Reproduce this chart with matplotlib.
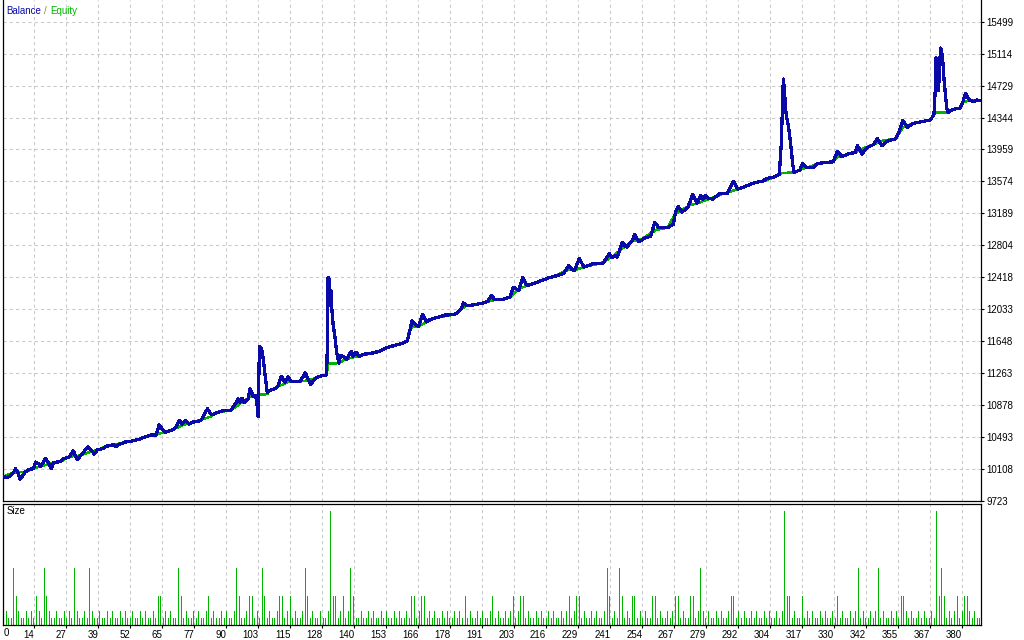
import numpy as np
import matplotlib
matplotlib.use("Agg")
import matplotlib.pyplot as plt

# right-hand price scale of the upper panel
y_ticks = [9723, 10108, 10493, 10878, 11263, 11648, 12033, 12418, 12804,
           13189, 13574, 13959, 14344, 14729, 15114, 15499]

# trade-number labels under the lower panel
x_labels = ["14", "27", "39", "52", "65", "77", "90", "103", "115", "128",
            "140", "153", "166", "178", "191", "203", "216", "229", "241", "254",
            "267", "279", "292", "304", "317", "330", "342", "355", "367", "380"]

# blue line ("Balance" in the caption)
balance_x = [0, 1.5, 2.8, 4.1, 4.9, 5.7, 6.7, 8.0, 8.8, 10.4, 12.0, 12.8, 14.1, 14.9,
             16.7, 18.0, 19.1, 19.9, 21.2, 22.7, 23.8, 26.2, 27.7, 29.3, 31.2, 33.5,
             35.1, 35.9, 37.2, 39.6, 41.1, 43.5, 44.3, 46.1, 48.2, 51.4, 53.5, 55.3,
             57.2, 58.8, 60.3, 61.6, 63.0, 64.0, 65.9, 67.4, 68.5, 69.5, 70.6, 71.9,
             73.2, 74.5, 77.2, 78.5, 80.6, 82.2, 84.3, 86.4, 90.0, 91.9, 92.7, 93.5,
             94.2, 95.3, 96.6, 97.4, 98.7, 99.5, 100.0, 100.6, 101.1, 101.9, 102.7,
             103.4, 104.2, 105.3, 107.1, 108.4, 109.8, 111.1, 112.4, 113.7, 117.1,
             119.2, 121.3, 123.2, 125.0, 127.6, 127.9, 128.2, 128.7, 129.0, 129.3,
             129.7, 130.2, 130.8, 131.6, 132.4, 133.2, 134.7, 135.5, 137.3, 138.1,
             139.2, 140.5, 142.1, 146.0, 148.7, 151.3, 154.7, 157.3, 159.4, 160.2,
             161.3, 162.9, 163.9, 165.5, 167.1, 168.4, 171.0, 174.3, 178.1, 178.9,
             180.7, 181.5, 183.1, 185.2, 189.4, 191.2, 192.6, 193.9, 197.0, 199.9,
             201.2, 203.4, 204.9, 206.7, 209.9, 211.8, 214.6, 218.3, 220.9, 223.1,
             224.4, 225.4, 227.2, 229.1, 232.8, 236.7, 239.1, 240.1, 241.4, 242.2,
             244.1, 245.9, 248.0, 249.1, 250.7, 253.3, 255.4, 257.0, 258.6, 261.9,
             264.3, 265.1, 266.2, 267.7, 270.1, 271.9, 273.8, 275.1, 276.1, 276.9,
             278.3, 279.9, 282.4, 285.6, 288.0, 289.8, 293.3, 296.6, 299.6, 301.1,
             303.7, 306.1, 306.9, 307.7, 308.2, 308.5, 309.0, 309.8, 310.6, 311.4,
             311.9, 314.3, 315.3, 316.9, 319.3, 321.1, 323.5, 327.4, 329.0, 330.8,
             334.0, 336.1, 336.9, 338.7, 340.6, 343.2, 344.8, 346.6, 348.5, 352.1,
             353.7, 354.8, 356.6, 358.9, 362.9, 365.8, 367.1, 367.6, 367.9, 368.7,
             368.9, 369.5, 369.8, 370.5, 371.1, 372.1, 372.6, 374.7, 377.4, 378.7,
             379.5, 381.3, 382.9, 383.9, 385.3]
balance_y = [10016, 10008, 10024, 10064, 10112, 10076, 9988, 10036, 10076, 10104, 10112,
             10192, 10168, 10136, 10240, 10176, 10112, 10184, 10192, 10200, 10232, 10256,
             10328, 10224, 10288, 10377, 10328, 10288, 10337, 10361, 10385, 10401, 10377,
             10409, 10433, 10449, 10465, 10489, 10505, 10521, 10513, 10641, 10577, 10553,
             10569, 10585, 10625, 10697, 10649, 10697, 10649, 10673, 10681, 10713, 10834,
             10762, 10786, 10810, 10818, 10906, 10954, 10914, 10962, 10906, 10954, 11074,
             10986, 10994, 10938, 10738, 11580, 11564, 11419, 11219, 11034, 11058, 11074,
             11106, 11227, 11155, 11219, 11163, 11163, 11267, 11130, 11203, 11227, 11243,
             11600, 12418, 12382, 12081, 12261, 12021, 11840, 11720, 11515, 11383, 11479,
             11455, 11431, 11527, 11467, 11515, 11467, 11491, 11507, 11531, 11572, 11600,
             11620, 11651, 11748, 11892, 11840, 11828, 11973, 11880, 11909, 11933, 11964,
             11969, 11988, 12041, 12109, 12077, 12085, 12109, 12133, 12198, 12150, 12150,
             12181, 12301, 12261, 12414, 12318, 12349, 12373, 12406, 12438, 12462, 12558,
             12510, 12502, 12646, 12542, 12583, 12590, 12703, 12655, 12679, 12662, 12839,
             12782, 12854, 12935, 12847, 12895, 12911, 13079, 13016, 13016, 13055, 13191,
             13272, 13203, 13263, 13416, 13312, 13401, 13360, 13408, 13368, 13360, 13425,
             13425, 13576, 13480, 13521, 13561, 13576, 13609, 13624, 13657, 14026, 14808,
             14667, 14466, 14346, 14226, 14026, 13786, 13681, 13713, 13793, 13745, 13737,
             13785, 13801, 13810, 13937, 13873, 13913, 13921, 14009, 13905, 13978, 14018,
             14090, 14002, 14057, 14090, 14202, 14306, 14226, 14274, 14298, 14315, 14387,
             14667, 15068, 14988, 14667, 15068, 15181, 15068, 14788, 14466, 14406, 14442,
             14459, 14547, 14635, 14547, 14539, 14555, 14547]

# green line ("Equity" in the caption)
equity_x = [0, 4, 9, 12, 14, 20, 23, 26, 30, 33, 37, 41, 44, 48, 53, 57, 60, 61, 66, 67,
            72, 76, 79, 82, 84, 90, 96, 98, 99, 104.2, 105.3, 109, 113, 117, 121, 125,
            127.6, 128.3, 132.4, 135, 140, 146, 151, 157, 159.4, 160, 161.5, 164, 167,
            171, 178, 180.7, 183, 189, 193, 197, 200, 204, 207, 212, 218, 222, 226, 229,
            236, 240, 244, 248, 252, 257.5, 262, 265, 271, 274, 279, 284, 289, 293, 297,
            300, 304, 306.1, 307, 311.9, 314, 317, 321, 327, 329.5, 334, 336, 339, 343,
            347, 352, 355, 359, 363, 365.8, 367.1, 367.5, 372.6, 374.7, 377.4, 378.5,
            381.3, 385.3]
equity_y = [10016, 10064, 10076, 10112, 10136, 10184, 10200, 10256, 10270, 10300, 10337,
            10385, 10401, 10433, 10465, 10505, 10513, 10529, 10569, 10585, 10650, 10681,
            10713, 10740, 10786, 10818, 10950, 10986, 11000, 11010, 11058, 11110, 11163,
            11163, 11180, 11227, 11243, 11379, 11383, 11431, 11467, 11507, 11560, 11620,
            11651, 11760, 11828, 11828, 11880, 11933, 11969, 12041, 12077, 12109, 12140,
            12150, 12181, 12290, 12318, 12373, 12438, 12502, 12510, 12542, 12590, 12662,
            12760, 12854, 12880, 12990, 13016, 13180, 13290, 13312, 13370, 13425, 13473,
            13521, 13561, 13576, 13624, 13657, 13677, 13681, 13713, 13740, 13785, 13810,
            13873, 13913, 13921, 13969, 14018, 14066, 14090, 14226, 14274, 14298, 14315,
            14387, 14406, 14406, 14442, 14459, 14530, 14547, 14547]

# position size of every trade (lots x 100), trades 1..385
sizes = [2, 1, 1, 8, 4, 2, 1, 1, 2, 1, 2, 1, 4, 2, 1, 8, 4, 2, 1, 1,
         2, 1, 1, 2, 1, 2, 1, 8, 2, 1, 1, 2, 1, 8, 2, 1, 1, 2, 1, 1,
         2, 1, 2, 1, 1, 2, 1, 2, 1, 1, 2, 1, 1, 2, 1, 2, 1, 1, 2, 1,
         4, 4, 1, 2, 1, 2, 1, 1, 8, 4, 1, 2, 1, 1, 2, 1, 2, 1, 1, 2,
         4, 1, 2, 1, 1, 2, 1, 2, 1, 1, 2, 8, 4, 1, 1, 2, 4, 4, 1, 2,
         1, 8, 4, 1, 2, 1, 1, 2, 4, 4, 1, 2, 4, 1, 2, 1, 1, 2, 8, 4,
         1, 2, 1, 1, 2, 1, 1, 2, 16, 4, 4, 1, 2, 4, 1, 2, 8, 4, 1, 1,
         2, 1, 1, 2, 1, 2, 1, 1, 2, 1, 2, 1, 1, 2, 1, 2, 1, 1, 2, 1,
         4, 4, 1, 2, 4, 4, 1, 2, 1, 2, 1, 1, 2, 1, 2, 1, 1, 2, 1, 2,
         1, 4, 1, 2, 1, 1, 2, 1, 2, 1, 1, 2, 4, 1, 2, 1, 1, 2, 1, 2,
         4, 1, 2, 4, 4, 1, 2, 1, 1, 2, 1, 2, 1, 1, 2, 1, 2, 1, 1, 2,
         1, 2, 4, 1, 2, 4, 4, 1, 2, 1, 1, 2, 1, 2, 1, 1, 2, 8, 4, 1,
         2, 1, 8, 4, 1, 2, 1, 4, 4, 1, 2, 1, 2, 1, 1, 4, 4, 1, 2, 1,
         1, 2, 1, 2, 4, 4, 1, 2, 1, 1, 4, 4, 1, 2, 8, 2, 1, 2, 1, 1,
         2, 1, 2, 1, 1, 2, 4, 4, 1, 2, 1, 2, 1, 1, 2, 1, 2, 1, 1, 2,
         1, 2, 1, 1, 2, 1, 2, 16, 4, 4, 1, 2, 1, 1, 4, 1, 2, 1, 2, 1,
         1, 2, 1, 2, 1, 1, 2, 1, 4, 1, 2, 1, 1, 2, 1, 2, 8, 1, 2, 1,
         1, 2, 1, 2, 8, 1, 2, 1, 1, 2, 1, 2, 1, 4, 4, 2, 1, 2, 1, 1,
         2, 1, 2, 1, 1, 2, 1, 16, 4, 8, 4, 1, 2, 1, 2, 4, 1, 2, 4, 4,
         2, 1, 2, 1, 1]
trades = np.arange(1, len(sizes) + 1)

W, H = 1024, 640
BLUE = "#0a0aa8"
GREEN = "#00b400"
GRID = "#c8c8c8"
FONT = "Liberation Sans"


def box(left, top, right, bottom):
    # pixel box -> figure fraction rectangle
    return [left / W, 1 - bottom / H, (right - left) / W, (bottom - top) / H]


fig = plt.figure(figsize=(W / 100, H / 100), dpi=100)
fig.patch.set_facecolor("white")

ax = fig.add_axes(box(3, 0, 981, 501))
ax2 = fig.add_axes(box(3, 503.5, 981, 625))

x_max = 385.65
grid_x = np.linspace(12.34, 378.26, len(x_labels))

# upper panel
ax.plot(equity_x, equity_y, color=GREEN, lw=1.0, antialiased=False, zorder=3)
ax.plot(balance_x, balance_y, color=BLUE, lw=1.6, antialiased=False, zorder=4)
ax.set_xlim(0, x_max)
ax.set_ylim(9723, 15760)
ax.set_yticks(y_ticks)
ax.set_yticklabels([str(v) for v in y_ticks], fontsize=7, family=FONT)
ax.yaxis.tick_right()
ax.tick_params(axis="y", direction="out", length=2, width=0.8, pad=2)
ax.set_xticks(grid_x)
ax.tick_params(axis="x", length=0, labelbottom=False)
ax.grid(True, color=GRID, linestyle=(0, (3, 3)), linewidth=0.75)
ax.set_axisbelow(True)
ax.spines["top"].set_visible(False)
for s in ["left", "right", "bottom"]:
    ax.spines[s].set_linewidth(0.9)

# lower panel
ax2.vlines(trades, 0, sizes, color=GREEN, lw=0.45, antialiased=False)
ax2.set_xlim(0, x_max)
ax2.set_ylim(0, 17.05)
ax2.set_yticks([])
ax2.set_xticks(grid_x)
ax2.set_xticklabels(x_labels, fontsize=7, family=FONT, ha="right")
ax2.tick_params(axis="x", direction="out", length=2, width=0.8, pad=1.5)
ax2.grid(True, axis="x", color=GRID, linestyle=(0, (3, 3)), linewidth=0.75)
ax2.set_axisbelow(True)
for s in ax2.spines.values():
    s.set_linewidth(0.9)

# captions
fig.text(3.5 / W, 1 - 633 / H, "0", fontsize=7, family=FONT, ha="left", va="center")
fig.text(6.5 / W, 1 - 511.5 / H, "Size", fontsize=7, family=FONT, color="black", va="center")

# "Balance / Equity" in two colours, each piece placed after the previous one
renderer = fig.canvas.get_renderer()
x_px = 6.5
for word, col in [("Balance", BLUE), ("/", "#8a8a10"), ("Equity", GREEN)]:
    t = fig.text(x_px / W, 1 - 10.5 / H, word, fontsize=7, family=FONT, color=col, va="center")
    x_px += t.get_window_extent(renderer).width + 3

fig.savefig("out.png", dpi=100)
